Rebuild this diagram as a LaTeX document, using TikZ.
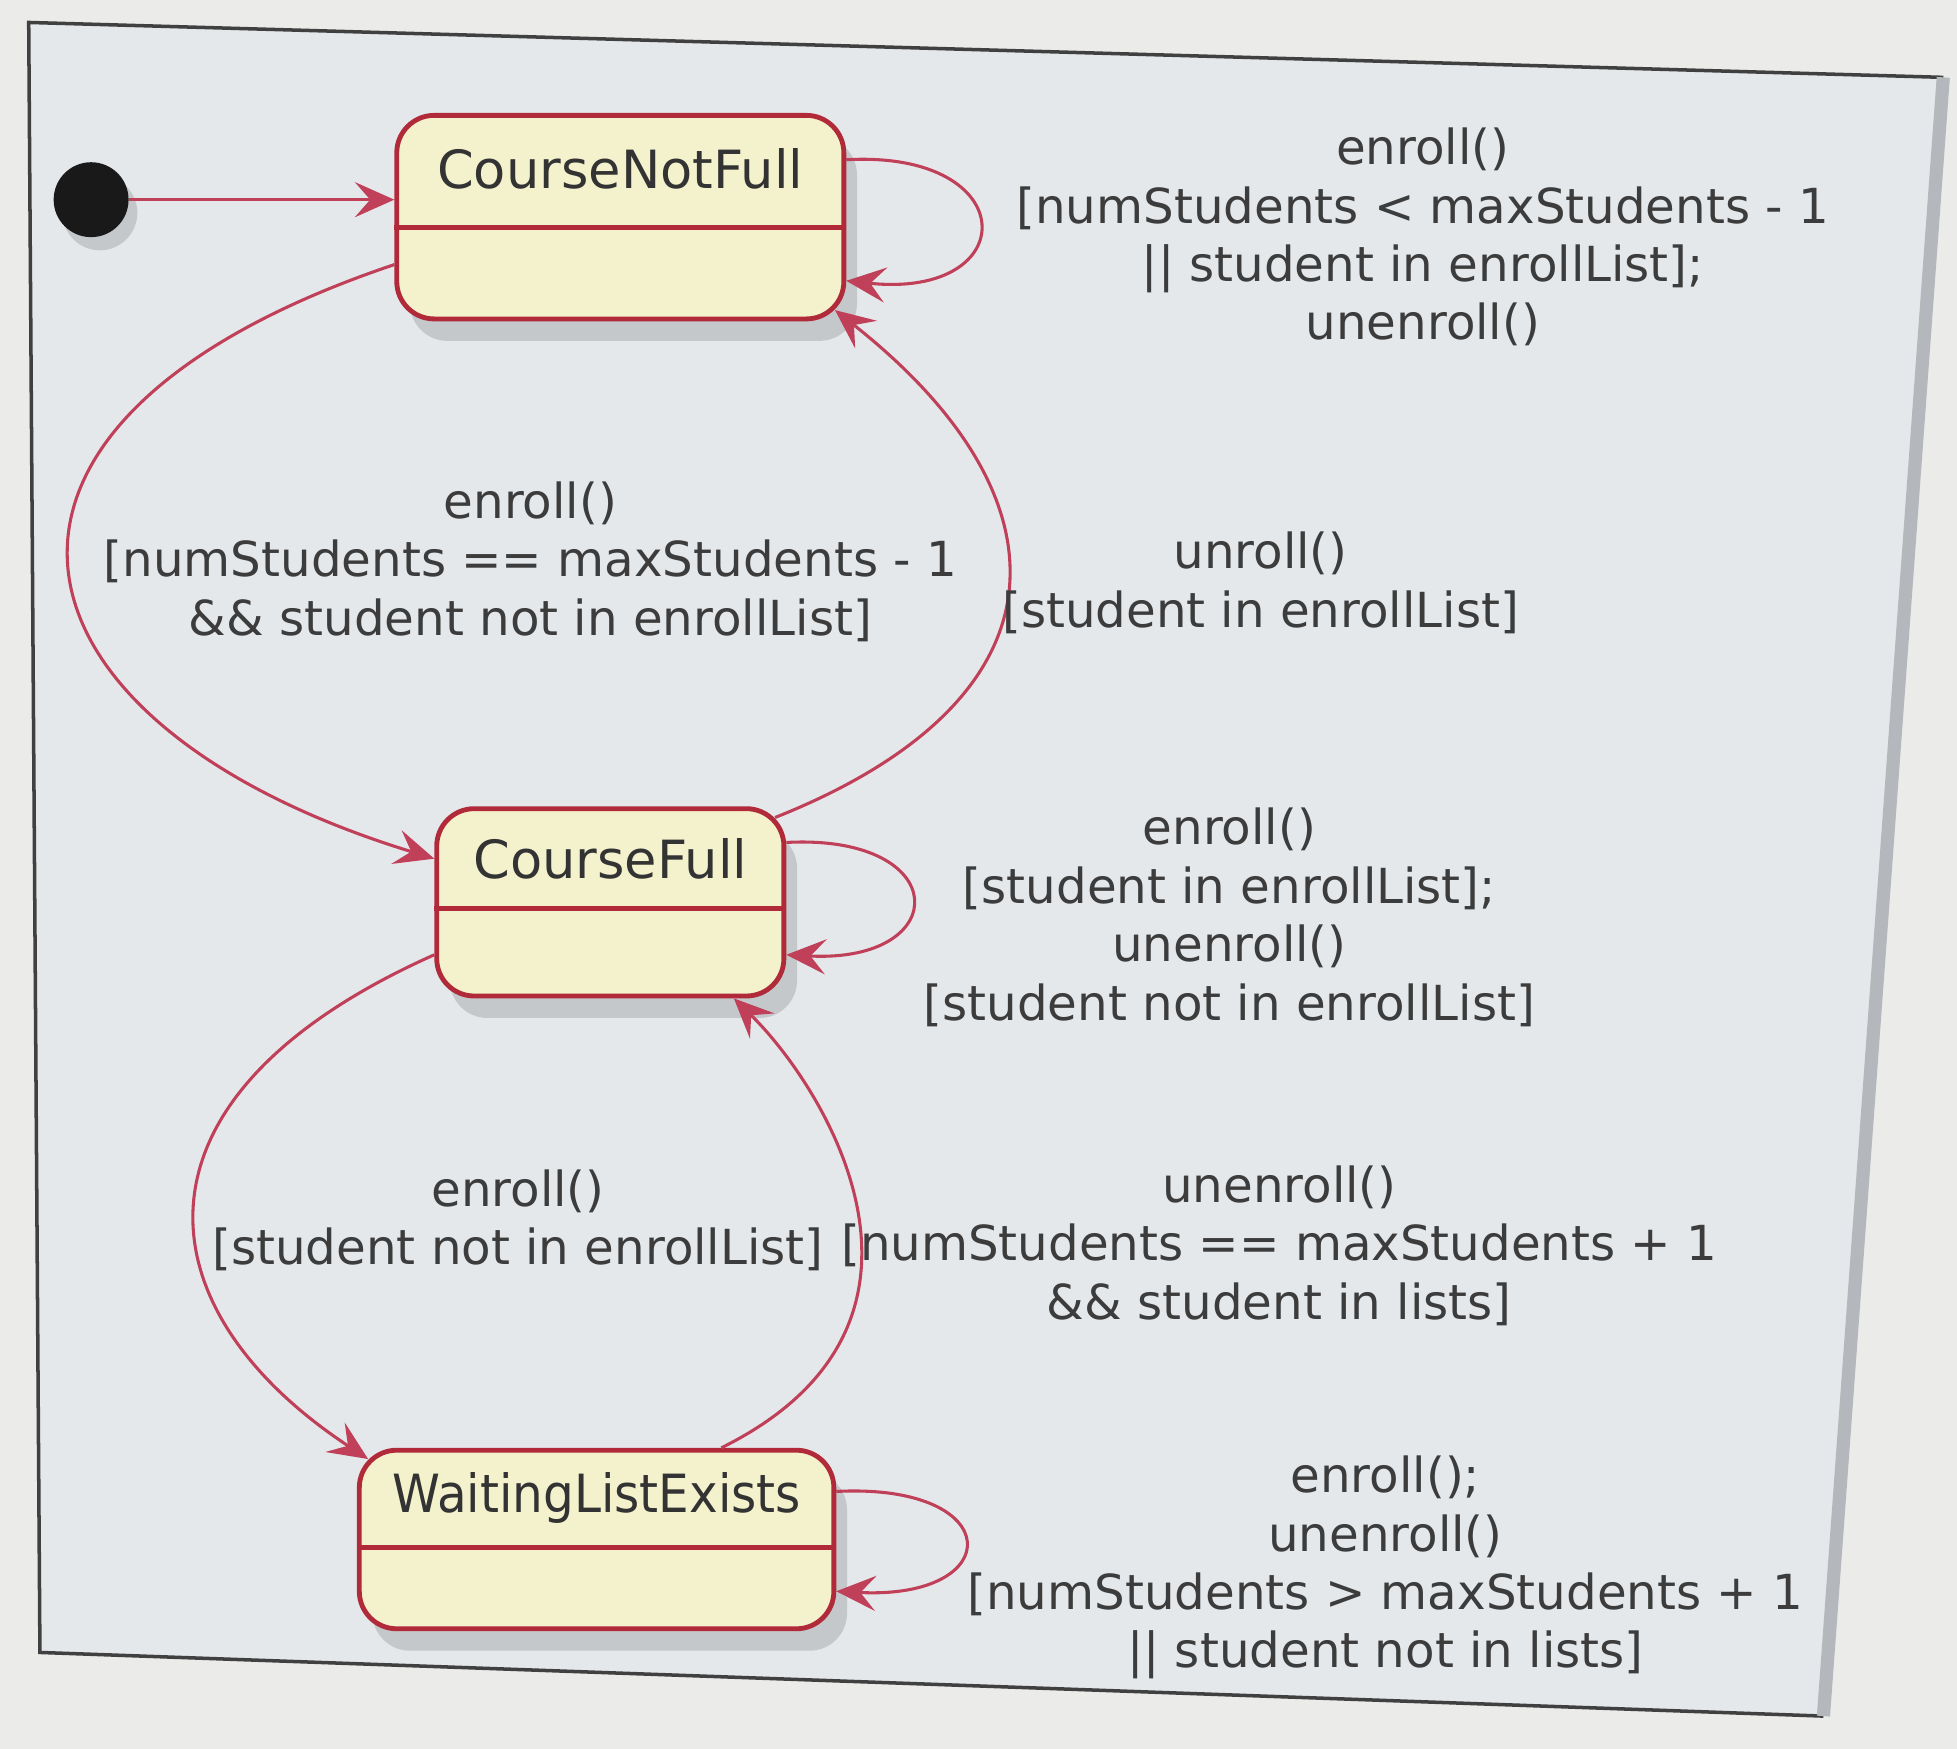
\documentclass[tikz,border=0pt]{standalone}
\usepackage{fontspec}
\setmainfont{DejaVu Sans}
\usetikzlibrary{arrows.meta,shadows,calc}
\definecolor{bgout}{HTML}{EBEBEA}
\definecolor{bgin}{HTML}{E4E8EB}
\definecolor{stateborder}{HTML}{B02A3A}
\definecolor{statefill}{HTML}{F4F2CC}
\definecolor{edgecol}{HTML}{C0405A}
\definecolor{labeltext}{HTML}{3C3C3C}
\definecolor{framegray}{HTML}{B4B8BC}
\begin{document}
\begin{tikzpicture}[x=0.01cm,y=-0.01cm,
  statebox/.style={draw=stateborder, line width=1.1pt, fill=statefill, rounded corners=0.3cm, inner sep=0pt,
    drop shadow={shadow xshift=3pt,shadow yshift=-5pt,opacity=0.3}},
  statename/.style={font=\fontsize{12}{14}\selectfont, text=black!80, inner sep=0pt},
  divider/.style={draw=stateborder, line width=1.1pt},
  trans/.style={draw=edgecol, line width=0.7pt, -{Stealth[length=9pt,width=8pt,inset=3.5pt]}},
  lbl/.style={align=center, font=\fontsize{11}{13.3}\selectfont, text=labeltext, inner sep=0pt},
]
\useasboundingbox (0,0) rectangle (1568,1401);
\fill[bgout] (0,0) rectangle (1568,1401);
\fill[bgin] (23,18) -- (1557,62) -- (1461,1375) -- (32,1324) -- cycle;
\draw[black!75, line width=0.8pt] (1557,62) -- (23,18) -- (32,1324) -- (1461,1375);
\draw[framegray, line width=3pt] (1557,62) -- (1461,1375);

% states
\node[statebox, minimum width=3.58cm, minimum height=1.63cm] (cnf) at (497,174) {};
\draw[divider] (cnf.west |- 0,182) -- (cnf.east |- 0,182);
\node[statename] (cnfname) at (497,135) {CourseNotFull};

\node[statebox, minimum width=2.78cm, minimum height=1.5cm] (cf) at (489,723) {};
\draw[divider] (cf.west |- 0,728) -- (cf.east |- 0,728);
\node[statename] (cfname) at (489,688) {CourseFull};

\node[statebox, minimum width=3.8cm, minimum height=1.43cm] (wle) at (478,1233.5) {};
\draw[divider] (wle.west |- 0,1240) -- (wle.east |- 0,1240);
\node[statename, xscale=0.92, transform shape] (wlename) at (478,1200) {WaitingListExists};

\node[circle, fill=black!90, minimum size=0.6cm, inner sep=0pt,
  drop shadow={shadow xshift=2pt,shadow yshift=-3pt,opacity=0.3}] (init) at (73,160) {};

% transitions
\draw[trans] (init.east) -- (cnf.west |- init.east);
\draw[trans] (cnf.east |- 0,128) .. controls (820,120) and (820,240) .. (cnf.east |- 0,225);
\draw[trans] (cnf.west |- 0,212) .. controls (-65,340) and (-5,580) .. (cf.west |- 0,688);
\draw[trans] ($(cf.north east)+(-9,9)$) .. controls (860,560) and (861,400) .. ($(cnf.south east)+(-9,-9)$);
\draw[trans] (cf.east |- 0,675) .. controls (764,668) and (764,772) .. (cf.east |- 0,765);
\draw[trans] (cf.west |- 0,765) .. controls (90,880) and (114,1050) .. ($(wle.north west)+(9,9)$);
\draw[trans] (578,0 |- wle.north) .. controls (780,1060) and (660,870) .. (588,0 |- cf.south);
\draw[trans] (wle.east |- 0,1195) .. controls (807,1188) and (807,1282) .. (wle.east |- 0,1275);

% labels
\node[lbl] (l1) at (1140,190) {enroll()\\{[}numStudents < maxStudents - 1\\|| student in enrollList];\\unenroll()};
\node[lbl] (l2) at (425,450) {enroll()\\{[}numStudents == maxStudents - 1\\\&\& student not in enrollList]};
\node[lbl] (l3) at (1010,467) {unroll()\\{[}student in enrollList]};
\node[lbl] (l4) at (985,735) {enroll()\\{[}student in enrollList];\\unenroll()\\{[}student not in enrollList]};
\node[lbl] (l5) at (415,978) {enroll()\\{[}student not in enrollList]};
\node[lbl] (l6) at (1025,998) {unenroll()\\{[}numStudents == maxStudents + 1\\\&\& student in lists]};
\node[lbl] (l7) at (1110,1256) {enroll();\\unenroll()\\{[}numStudents > maxStudents + 1\\|| student not in lists]};
\end{tikzpicture}
\end{document}
